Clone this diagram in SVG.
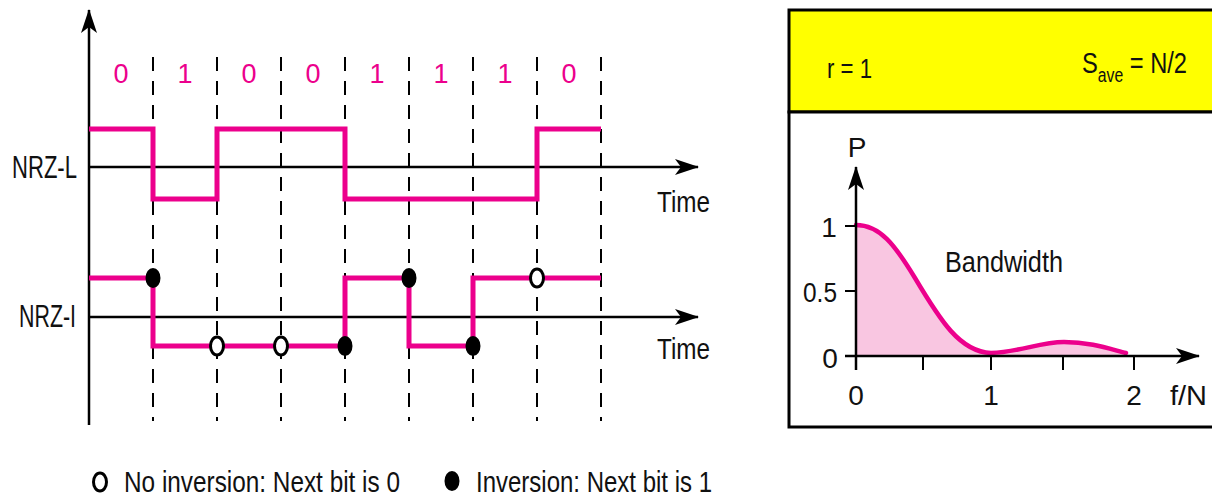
<svg xmlns="http://www.w3.org/2000/svg" width="1212" height="497" viewBox="0 0 1212 497">
  <style>
    .txt { font-family: "Liberation Sans Narrow", "Liberation Sans", Arial, sans-serif; fill: #111; }
    .bit { font-family: "Liberation Sans Narrow", "Liberation Sans", Arial, sans-serif; fill: #ec008c; font-size: 27px; text-anchor: middle; }
    .axis { stroke: #000; stroke-width: 2.5; fill: none; }
    .grid { stroke: #000; stroke-width: 2; stroke-dasharray: 14 10; fill: none; }
    .sig { stroke: #ec008c; stroke-width: 5; fill: none; stroke-linejoin: miter; }
    .dot { fill: #000; stroke: #000; stroke-width: 2; }
    .ring { fill: #fff; stroke: #000; stroke-width: 3; }
    .tick { stroke: #000; stroke-width: 2; }
  </style>
  <defs>
    <marker id="arrow" markerUnits="userSpaceOnUse" markerWidth="24" markerHeight="16" viewBox="0 0 24 16" refX="23" refY="8" orient="auto">
      <path d="M0,0 L24,8 L0,16 L6,8 Z" fill="#000"/>
    </marker>
  </defs>

  <!-- Time axes -->
  <g id="axes">
    <line class="axis" x1="89" y1="425" x2="89" y2="10" marker-end="url(#arrow)"/>
    <line class="axis" x1="89" y1="167" x2="698" y2="167" marker-end="url(#arrow)"/>
    <line class="axis" x1="89" y1="317" x2="698" y2="317" marker-end="url(#arrow)"/>
  </g>

  <!-- Bit boundaries -->
  <g id="bit-grid">
    <line class="grid" x1="153" y1="57" x2="153" y2="421"/>
    <line class="grid" x1="217" y1="57" x2="217" y2="421"/>
    <line class="grid" x1="281" y1="57" x2="281" y2="421"/>
    <line class="grid" x1="345" y1="57" x2="345" y2="421"/>
    <line class="grid" x1="409" y1="57" x2="409" y2="421"/>
    <line class="grid" x1="473" y1="57" x2="473" y2="421"/>
    <line class="grid" x1="537" y1="57" x2="537" y2="421"/>
    <line class="grid" x1="601" y1="57" x2="601" y2="421"/>
  </g>

  <!-- Data bits -->
  <g id="bits">
    <text class="bit" x="121" y="83">0</text>
    <text class="bit" x="185" y="83">1</text>
    <text class="bit" x="249" y="83">0</text>
    <text class="bit" x="313" y="83">0</text>
    <text class="bit" x="377" y="83">1</text>
    <text class="bit" x="441" y="83">1</text>
    <text class="bit" x="505" y="83">1</text>
    <text class="bit" x="569" y="83">0</text>
  </g>

  <!-- NRZ-L waveform -->
  <g id="nrz-l">
    <text class="txt" x="12" y="178" font-size="31" textLength="65" lengthAdjust="spacingAndGlyphs">NRZ-L</text>
    <path class="sig" d="M89,129 H153 V199 H217 V129 H345 V199 H537 V129 H601"/>
    <text class="txt" x="657" y="212" font-size="30" textLength="53" lengthAdjust="spacingAndGlyphs">Time</text>
  </g>

  <!-- NRZ-I waveform -->
  <g id="nrz-i">
    <text class="txt" x="19" y="327" font-size="31" textLength="57" lengthAdjust="spacingAndGlyphs">NRZ-I</text>
    <path class="sig" d="M89,278 H153 V346 H345 V278 H409 V346 H473 V278 H601"/>
    <ellipse class="dot" cx="153" cy="278" rx="6.5" ry="9"/>
    <ellipse class="ring" cx="217" cy="346" rx="6.5" ry="9"/>
    <ellipse class="ring" cx="281" cy="346" rx="6.5" ry="9"/>
    <ellipse class="dot" cx="345" cy="346" rx="6.5" ry="9"/>
    <ellipse class="dot" cx="409" cy="278" rx="6.5" ry="9"/>
    <ellipse class="dot" cx="473" cy="346" rx="6.5" ry="9"/>
    <ellipse class="ring" cx="537" cy="278" rx="6.5" ry="9"/>
    <text class="txt" x="657" y="359" font-size="30" textLength="53" lengthAdjust="spacingAndGlyphs">Time</text>
  </g>

  <!-- Legend -->
  <g id="legend">
    <ellipse class="ring" cx="100" cy="482" rx="6.5" ry="9"/>
    <text class="txt" x="124" y="492" font-size="30" textLength="276" lengthAdjust="spacingAndGlyphs">No inversion: Next bit is 0</text>
    <ellipse class="dot" cx="452" cy="481" rx="6.5" ry="9"/>
    <text class="txt" x="476" y="492" font-size="30" textLength="236" lengthAdjust="spacingAndGlyphs">Inversion: Next bit is 1</text>
  </g>

  <!-- Spectrum panel -->
  <g id="spectrum-panel">
    <rect x="789" y="10" width="440" height="102" fill="#ffff00" stroke="#000" stroke-width="3"/>
    <rect x="789" y="112" width="440" height="315" fill="#fff" stroke="#000" stroke-width="3"/>
    <text class="txt" x="827" y="78" font-size="27" textLength="45" lengthAdjust="spacingAndGlyphs">r = 1</text>
    <text class="txt" x="1082" y="73" font-size="30" textLength="105" lengthAdjust="spacingAndGlyphs">S<tspan font-size="20" dy="9">ave</tspan><tspan dy="-9"> = N/2</tspan></text>

    <!-- power spectral density -->
    <path d="M856,225 C880,225 895,245 915,278 C940,320 960,352 991,353 C1020,352 1040,342 1064,342 C1090,342 1110,349 1126,353 L1126,356 L856,356 Z" fill="#f9c6e1"/>
    <path d="M856,225 C880,225 895,245 915,278 C940,320 960,352 991,353 C1020,352 1040,342 1064,342 C1090,342 1110,349 1126,353" fill="none" stroke="#ec008c" stroke-width="4.5" stroke-linecap="round"/>

    <line class="axis" x1="856" y1="370" x2="856" y2="167" marker-end="url(#arrow)"/>
    <line class="axis" x1="845" y1="356" x2="1199" y2="356" marker-end="url(#arrow)"/>
    <line class="tick" x1="845" y1="226" x2="856" y2="226"/>
    <line class="tick" x1="845" y1="291" x2="856" y2="291"/>
    <line class="tick" x1="923" y1="356" x2="923" y2="370"/>
    <line class="tick" x1="991" y1="356" x2="991" y2="370"/>
    <line class="tick" x1="1063" y1="356" x2="1063" y2="370"/>
    <line class="tick" x1="1134" y1="356" x2="1134" y2="370"/>

    <text class="txt" x="857" y="157" font-size="28" text-anchor="middle">P</text>
    <text class="txt" x="829" y="237" font-size="28" text-anchor="middle">1</text>
    <text class="txt" x="837" y="302" font-size="28" text-anchor="end" textLength="34" lengthAdjust="spacingAndGlyphs">0.5</text>
    <text class="txt" x="830" y="368" font-size="28" text-anchor="middle">0</text>
    <text class="txt" x="856" y="405" font-size="28" text-anchor="middle">0</text>
    <text class="txt" x="991" y="405" font-size="28" text-anchor="middle">1</text>
    <text class="txt" x="1134" y="405" font-size="28" text-anchor="middle">2</text>
    <text class="txt" x="1170" y="405" font-size="28" textLength="37" lengthAdjust="spacingAndGlyphs">f/N</text>
    <text class="txt" x="945" y="272" font-size="29" textLength="118" lengthAdjust="spacingAndGlyphs">Bandwidth</text>
  </g>
</svg>
